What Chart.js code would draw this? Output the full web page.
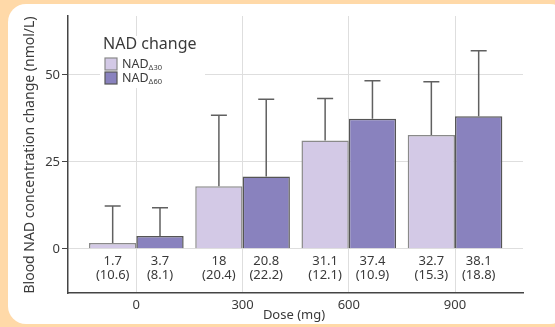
<!DOCTYPE html>
<html>
<head>
<meta charset="utf-8">
<script src="https://cdn.jsdelivr.net/npm/chart.js@4/dist/chart.umd.min.js"></script>
<style>
  body { margin: 0; background: #FFD9A8; width: 555px; height: 327px; overflow: hidden; }
  #panel { position: absolute; left: 8px; top: 4px; width: 560px; height: 320px; background: #fff; border-radius: 18px; }
  #chart { position: absolute; left: 0; top: 0; }
</style>
</head>
<body>
<div id="panel"></div>
<canvas id="chart" width="555" height="327"></canvas>
<script>
// Data
const doses = [0, 300, 600, 900];
const nad30 = [1.7, 18, 31.1, 32.7];
const sd30 = [10.6, 20.4, 12.1, 15.3];
const nad60 = [3.7, 20.8, 37.4, 38.1];
const sd60 = [8.1, 22.2, 10.9, 18.8];
const yTicks = [0, 25, 50];
const seriesNames = ['NAD', 'NAD'];
const seriesSubs = ['\u039430', '\u039460'];

const lightFill = '#D3C9E6';
const darkFill = '#8982BE';
const textColor = '#3a3a3a';
const font = '"Noto Sans", sans-serif';

// Error bars, value labels, axis titles and legend
const extrasPlugin = {
  id: 'extras',
  afterDatasetsDraw(chart) {
    const ctx = chart.ctx;
    const y = chart.scales.y;
    const sds = [sd30, sd60];
    ctx.save();
    chart.data.datasets.forEach((ds, di) => {
      chart.getDatasetMeta(di).data.forEach((bar, i) => {
        const v = ds.data[i].y;
        const top = y.getPixelForValue(v + sds[di][i]);
        ctx.strokeStyle = '#606060';
        ctx.lineWidth = 1.5;
        ctx.beginPath();
        ctx.moveTo(bar.x, bar.y);
        ctx.lineTo(bar.x, top);
        ctx.moveTo(bar.x - 8, top);
        ctx.lineTo(bar.x + 8, top);
        ctx.stroke();
        // labels below zero
        ctx.fillStyle = textColor;
        ctx.font = '13px ' + font;
        ctx.textAlign = 'center';
        ctx.textBaseline = 'middle';
        ctx.fillText(String(v), bar.x, 261);
        ctx.fillText('(' + sds[di][i] + ')', bar.x, 275);
      });
    });
    ctx.restore();
  },
  afterDraw(chart) {
    const ctx = chart.ctx;
    ctx.save();
    // y title
    ctx.fillStyle = textColor;
    ctx.font = '14px ' + font;
    ctx.textAlign = 'center';
    ctx.textBaseline = 'middle';
    ctx.translate(30, 155);
    ctx.rotate(-Math.PI / 2);
    ctx.fillText('Blood NAD concentration change (nmol/L)', 0, 0);
    ctx.restore();
    ctx.save();
    ctx.fillStyle = textColor;
    ctx.font = '13px ' + font;
    ctx.textAlign = 'center';
    ctx.textBaseline = 'middle';
    ctx.fillText('Dose (mg)', 294, 315);
    // legend
    ctx.fillStyle = '#fff';
    ctx.fillRect(100, 36, 105, 52);
    ctx.fillStyle = textColor;
    ctx.font = '16px ' + font;
    ctx.textAlign = 'left';
    ctx.fillText('NAD change', 103, 44);
    const fills = [lightFill, darkFill];
    const borders = ['#8a8a8a', '#555'];
    fills.forEach((f, i) => {
      const by = 58 + i * 14;
      ctx.fillStyle = f;
      ctx.fillRect(105, by, 12, 12);
      ctx.strokeStyle = borders[i];
      ctx.lineWidth = 1.2;
      ctx.strokeRect(105, by, 12, 12);
      ctx.fillStyle = textColor;
      ctx.font = '12.5px ' + font;
      ctx.textBaseline = 'alphabetic';
      ctx.fillText(seriesNames[i], 122, by + 10);
      const w = ctx.measureText(seriesNames[i]).width;
      ctx.font = '7.5px ' + font;
      ctx.fillText(seriesSubs[i], 122 + w, by + 12);
    });
    ctx.restore();
  }
};

new Chart(document.getElementById('chart'), {
  type: 'bar',
  data: {
    datasets: [
      {
        label: 'NAD30',
        data: doses.map((d, i) => ({ x: d, y: nad30[i] })),
        backgroundColor: lightFill,
        borderColor: '#8a8a8a',
        borderWidth: 1.5
      },
      {
        label: 'NAD60',
        data: doses.map((d, i) => ({ x: d, y: nad60[i] })),
        backgroundColor: darkFill,
        borderColor: '#555',
        borderWidth: 1.5
      }
    ]
  },
  options: {
    responsive: false,
    animation: false,
    categoryPercentage: 0.891,
    barPercentage: 1,
    layout: { padding: { top: 16, right: 32, left: 0, bottom: 0 } },
    plugins: { legend: { display: false }, tooltip: { enabled: false } },
    scales: {
      x: {
        type: 'linear',
        min: -193,
        max: 1092,
        offset: false,
        afterBuildTicks: (s) => { s.ticks = doses.map(v => ({ value: v })); },
        afterFit: (s) => { s.height = 34; },
        grid: { color: '#dedede', lineWidth: 1, drawTicks: false, offset: false },
        border: { color: '#444', width: 1.5 },
        ticks: { color: textColor, font: { family: font, size: 13 }, padding: 4, maxRotation: 0 }
      },
      y: {
        min: -12.7,
        max: 66.9,
        afterBuildTicks: (s) => { s.ticks = yTicks.map(v => ({ value: v })); },
        afterFit: (s) => { s.width = 68; },
        grid: { color: '#dedede', lineWidth: 1, tickLength: 6, tickColor: '#444' },
        border: { color: '#444', width: 1.5 },
        ticks: { color: textColor, font: { family: font, size: 13 }, padding: 2 }
      }
    }
  },
  plugins: [extrasPlugin]
});
</script>
</body>
</html>
